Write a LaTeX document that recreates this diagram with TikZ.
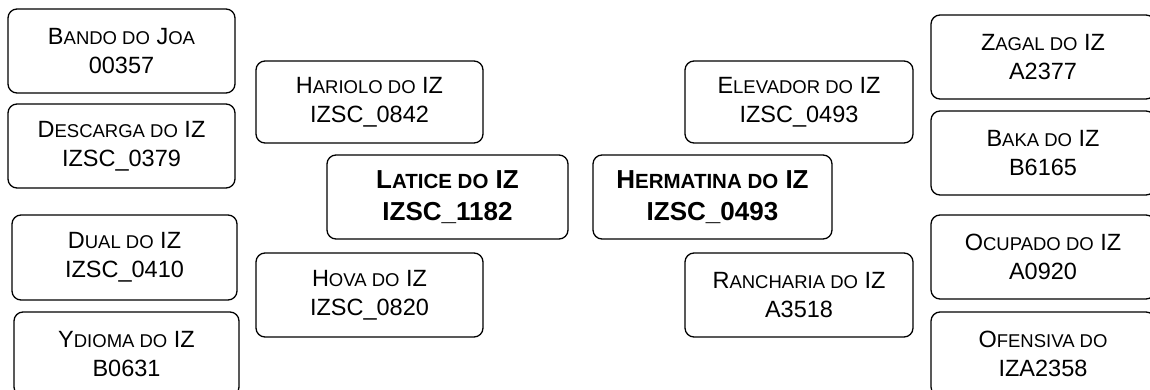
\documentclass[tikz,border=0pt]{standalone}
\usepackage{fontspec}
\setmainfont{Liberation Sans}
\usepackage{tikz}
\usetikzlibrary{positioning}

% small letters of the faked small caps
\newcommand{\lc}[1]{{\fontsize{\lcsize}{0}\selectfont #1}}

\begin{document}
\begin{tikzpicture}[x=1pt,y=-1pt,
  box/.style={draw,line width=1.3pt,rounded corners=9pt,inner sep=0pt,
    align=center,minimum width=227pt,minimum height=84pt,
    font=\fontsize{23.5}{29}\selectfont\def\lcsize{18.5}},
  mainbox/.style={box,minimum width=240pt,
    font=\bfseries\fontsize{26}{32}\selectfont\def\lcsize{20.5}}]
  \useasboundingbox (0,0) rectangle (1150,390);

  % Left column
  \node[box] (bando) at (121.5,51) {B\lc{ANDO DO} J\lc{OA}\\00357};
  \node[box] (descarga) at (121.5,146) {D\lc{ESCARGA DO} IZ\\IZSC\_0379};
  \node[box,minimum width=225pt,minimum height=85pt] (dual) at (124.5,257.5) {D\lc{UAL DO} IZ\\IZSC\_0410};
  \node[box,minimum width=225pt] (ydioma) at (126.5,354) {Y\lc{DIOMA DO} IZ\\B0631};

  % Inner left
  \node[box,minimum height=82pt] (hariolo) at (369.5,102) {H\lc{ARIOLO DO} IZ\\IZSC\_0842};
  \node[box] (hova) at (369.5,295) {H\lc{OVA DO} IZ\\IZSC\_0820};

  % Centre pair
  \node[mainbox,minimum width=241pt] (latice) at (447.5,197) {L\lc{ATICE DO} IZ\\IZSC\_1182};
  \node[mainbox,minimum width=239pt] (hermatina) at (712.5,197) {H\lc{ERMATINA DO} IZ\\IZSC\_0493};

  % Inner right
  \node[box,minimum width=228pt,minimum height=82pt] (elevador) at (799,102) {E\lc{LEVADOR DO} IZ\\IZSC\_0493};
  \node[box,minimum width=228pt] (rancharia) at (799,295) {R\lc{ANCHARIA DO} IZ\\A3518};

  % Right column
  \node[box,minimum width=224pt] (zagal) at (1043,57) {Z\lc{AGAL DO} IZ\\A2377};
  \node[box,minimum width=224pt] (baka) at (1043,153) {B\lc{AKA DO} IZ\\B6165};
  \node[box,minimum width=224pt] (ocupado) at (1043,257) {O\lc{CUPADO DO} IZ\\A0920};
  \node[box,minimum width=224pt] (ofensiva) at (1043,354) {O\lc{FENSIVA DO}\\IZA2358};
\end{tikzpicture}
\end{document}
